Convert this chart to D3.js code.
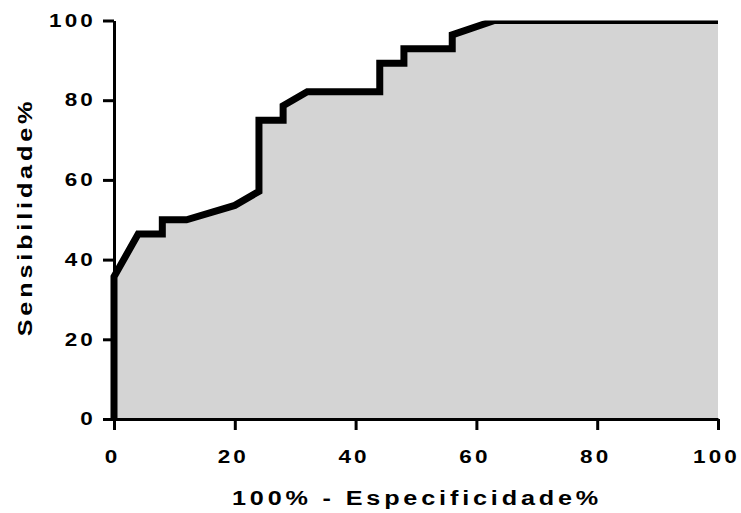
<!DOCTYPE html>
<html>
<head>
<meta charset="utf-8">
<title>ROC</title>
<script src="https://d3js.org/d3.v7.min.js"></script>
<style>
body {
	margin: 0;
	background-color: white;
}
.axis path, .axis line {
	stroke: black;
	stroke-width: 3;
}
.axis text {
	font-family: "Liberation Sans", Arial, sans-serif;
	font-weight: bold;
	font-size: 18px;
	letter-spacing: 2.5px;
	fill: black;
}
.title {
	font-family: "Liberation Sans", Arial, sans-serif;
	font-weight: bold;
	font-size: 21px;
	letter-spacing: 3.2px;
	fill: black;
}
</style>
</head>
<body>
<div id="graph"></div>
<script>
(function() {
"use strict";

// 100% - Especificidade% (x) and Sensibilidade% (y)
const fpr = [0, 0, 4, 8, 8, 12, 20, 24, 24, 28, 28, 32, 44, 44, 48, 48, 56, 56, 63, 100];
const sens = [0, 35.7, 46.4, 46.4, 50, 50, 53.6, 57.1, 75, 75, 78.6, 82.1, 82.1, 89.3, 89.3, 92.9, 92.9, 96.4, 100, 100];
const ticks = [0, 20, 40, 60, 80, 100];
const xTitle = "100% - Especificidade%";
const yTitle = "Sensibilidade%";

// the glyphs in the picture are wider than Arial bold
const tickStretch = 1.25;
const titleStretch = 1.2;

function main()
{
	const W = 741, H = 513;
	const margin = {top: 20.5, left: 114, right: 23, bottom: 94};
	const width = W - margin.left - margin.right;
	const height = H - margin.top - margin.bottom;

	const x = d3.scaleLinear([0, 100], [0, width]);
	const y = d3.scaleLinear([0, 100], [height, 0]);
	const data = fpr.map((f, i) => [f, sens[i]]);

	const svg = d3.select("#graph").append("svg")
		.attr("width", W)
		.attr("height", H);

	svg.append("defs").append("clipPath")
		.attr("id", "clip")
		.append("rect")
			.attr("x", -10)
			.attr("y", 0)
			.attr("width", width + 10)
			.attr("height", height + 10);

	const g = svg.append("g")
		.attr("transform", "translate(" + margin.left + "," + margin.top + ")");

	const area = d3.area()
		.x(d => x(d[0]))
		.y0(y(0))
		.y1(d => y(d[1]));
	const line = d3.line()
		.x(d => x(d[0]))
		.y(d => y(d[1]));

	const plot = g.append("g").attr("clip-path", "url(#clip)");
	plot.append("path")
		.datum(data)
		.attr("fill", "#d4d4d4")
		.attr("d", area);

	const gx = g.append("g")
		.attr("class", "axis")
		.attr("transform", "translate(0," + height + ")")
		.call(d3.axisBottom(x).tickValues(ticks).tickSize(11).tickSizeOuter(0).tickPadding(20));
	gx.selectAll("text")
		.attr("x", -2 / tickStretch)
		.attr("transform", "scale(" + tickStretch + ",1)");

	const gy = g.append("g")
		.attr("class", "axis")
		.call(d3.axisLeft(y).tickValues(ticks).tickSize(11).tickSizeOuter(0));
	gy.selectAll("text")
		.attr("x", -18 / tickStretch)
		.attr("transform", "scale(" + tickStretch + ",1)");

	plot.append("path")
		.datum(data)
		.attr("fill", "none")
		.attr("stroke", "black")
		.attr("stroke-width", 7)
		.attr("stroke-linejoin", "miter")
		.attr("d", line);

	svg.append("text")
		.attr("class", "title")
		.attr("text-anchor", "middle")
		.attr("transform", "translate(" + (margin.left + width / 2 + 1) + ",504.5) scale(" + titleStretch + ",1)")
		.text(xTitle);

	svg.append("text")
		.attr("class", "title")
		.attr("text-anchor", "middle")
		.attr("transform", "translate(32,217) rotate(-90) scale(" + titleStretch + ",1)")
		.text(yTitle);
}
main();
})();
</script>
</body>
</html>
